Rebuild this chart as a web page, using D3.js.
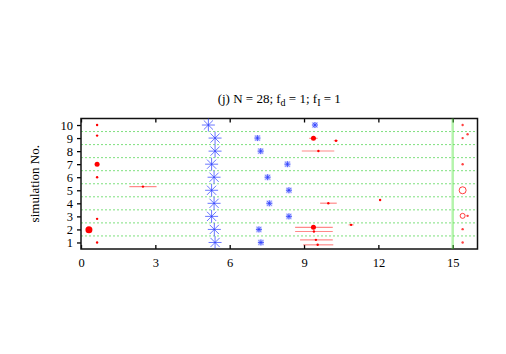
<!DOCTYPE html>
<html>
<head>
<meta charset="utf-8">
<script src="https://cdn.jsdelivr.net/npm/d3@7"></script>
<style>
  body { margin: 0; background: #fff; }
</style>
</head>
<body>
<div id="chart"></div>
<script>
// ----- data -----
const runs = [1, 2, 3, 4, 5, 6, 7, 8, 9, 10];
const bigStarX   = [5.41, 5.38, 5.27, 5.37, 5.27, 5.37, 5.27, 5.41, 5.41, 5.14];
const smallStarX = [7.26, 7.18, 8.39, 7.60, 8.39, 7.53, 8.33, 7.25, 7.12, 9.44];

// estimates with horizontal error bars
const estX  = [9.38, 10.29, 9.58, 2.50, 9.98, 12.07, 10.90, 9.38, 9.40, 9.48, 9.55];
const estY  = [8.98, 8.80, 8.01, 5.28, 4.01, 4.26, 2.35, 2.16, 1.84, 1.20, 0.82];
const estLo = [9.21, 10.20, 8.91, 1.95, 9.65, 12.05, 10.80, 8.64, 8.64, 8.84, 8.97];
const estHi = [9.55, 10.37, 10.22, 3.05, 10.32, 12.09, 11.00, 10.16, 10.16, 10.16, 10.18];
const estR  = [2.5, 1.2, 1.2, 1.2, 1.2, 1.2, 1.2, 2.5, 1.2, 1.2, 1.2];

// start points near x=0
const startX = [0.65, 0.65, 0.65, 0.65, 0.65, 0.32, 0.65];
const startY = [10.0, 9.19, 7.0, 6.0, 2.81, 1.97, 1.0];
const startR = [1.2, 1.2, 2.5, 1.2, 1.2, 3.5, 1.2];

// end points past the limit line
const endX = [15.40, 15.40, 15.60, 15.40, 15.40, 15.40, 15.60, 15.40, 15.40];
const endY = [10.0, 9.0, 9.29, 7.0, 5.0, 3.04, 3.04, 2.02, 1.0];
const endR = [1.2, 1.2, 1.2, 1.2, 3.5, 2.5, 1.2, 1.2, 1.2];
const endOpen = [0, 0, 0, 0, 1, 1, 0, 0, 0];

const limitX = 15;
const xTicks = [0, 3, 6, 9, 12, 15];
const gridY = [1.5, 2.5, 3.5, 4.5, 5.5, 6.5, 7.5, 8.5, 9.5];

// ----- layout -----
const W = 506, H = 354;
const L = 81, R = 477.5, T = 118.5, B = 249;
const FONT = "Liberation Serif, DejaVu Serif, Noto Serif, serif";

const svg = d3.select('#chart').append('svg')
    .attr('width', W).attr('height', H)
    .style('font-family', FONT);

const x = d3.scaleLinear().domain([0, 16]).range([L, R]);
const y = d3.scaleLinear().domain([0.5, 10.5]).range([B, T]);

// grid
svg.append('g').selectAll('line').data(gridY).enter().append('line')
    .attr('x1', L).attr('x2', R)
    .attr('y1', d => y(d)).attr('y2', d => y(d))
    .attr('stroke', '#7ee07e').attr('stroke-width', 1)
    .attr('stroke-dasharray', '2,2');

// axes
const gBottom = svg.append('g').attr('transform', `translate(0,${B})`)
    .call(d3.axisBottom(x).tickValues(xTicks).tickSizeInner(-4).tickSizeOuter(0).tickPadding(9));
const gTop = svg.append('g').attr('transform', `translate(0,${T})`)
    .call(d3.axisTop(x).tickValues(xTicks).tickSizeInner(-4).tickSizeOuter(0).tickFormat(''));
const gLeft = svg.append('g').attr('transform', `translate(${L},0)`)
    .call(d3.axisLeft(y).tickValues(runs).tickSizeInner(4).tickSizeOuter(0).tickPadding(4));

[gBottom, gTop, gLeft].forEach(g => {
    g.attr('font-family', null).attr('font-size', null);
    g.select('.domain').remove();
    g.selectAll('line').attr('stroke', '#000').attr('stroke-width', 1.3);
    g.selectAll('text').attr('fill', '#000')
        .style('font-family', FONT).style('font-size', '12.5px');
});

// frame
svg.append('rect').attr('x', L).attr('y', T).attr('width', R - L).attr('height', B - T)
    .attr('fill', 'none').attr('stroke', '#111').attr('stroke-width', 1.5);

// limit line
svg.append('line')
    .attr('x1', x(limitX)).attr('x2', x(limitX)).attr('y1', T).attr('y2', B)
    .attr('stroke', 'rgba(90,230,70,0.45)').attr('stroke-width', 2.5);

// asterisk shape
function star(r) {
    const d = r * Math.SQRT1_2;
    return `M${-r},0L${r},0M0,${-r}L0,${r}M${-d},${-d}L${d},${d}M${-d},${d}L${d},${-d}`;
}

// big asterisks
svg.append('g').selectAll('path').data(runs).enter().append('path')
    .attr('transform', (d, i) => `translate(${x(bigStarX[i])},${y(d)})`)
    .attr('d', star(6.5))
    .attr('stroke', '#2a3cff').attr('stroke-opacity', 0.7).attr('stroke-width', 1)
    .attr('fill', 'none');

// small asterisks with square halo
const gSmall = svg.append('g');
gSmall.selectAll('rect').data(runs).enter().append('rect')
    .attr('x', (d, i) => x(smallStarX[i]) - 3).attr('y', d => y(d) - 3)
    .attr('width', 6).attr('height', 6)
    .attr('fill', 'rgba(90,100,255,0.3)');
gSmall.selectAll('path').data(runs).enter().append('path')
    .attr('transform', (d, i) => `translate(${x(smallStarX[i])},${y(d)})`)
    .attr('d', star(3))
    .attr('stroke', '#2a3cff').attr('stroke-opacity', 0.85).attr('stroke-width', 0.9)
    .attr('fill', 'none');

// error bars
const gEst = svg.append('g');
gEst.selectAll('line').data(estX).enter().append('line')
    .attr('x1', (d, i) => x(estLo[i])).attr('x2', (d, i) => x(estHi[i]))
    .attr('y1', (d, i) => y(estY[i])).attr('y2', (d, i) => y(estY[i]))
    .attr('stroke', 'rgba(255,40,40,0.55)').attr('stroke-width', 1.2);
gEst.selectAll('circle').data(estX).enter().append('circle')
    .attr('cx', d => x(d)).attr('cy', (d, i) => y(estY[i]))
    .attr('r', (d, i) => estR[i])
    .attr('fill', '#ff0000');

// start points
svg.append('g').selectAll('circle').data(startX).enter().append('circle')
    .attr('cx', d => x(d)).attr('cy', (d, i) => y(startY[i]))
    .attr('r', (d, i) => startR[i])
    .attr('fill', '#ff0000');

// end points
svg.append('g').selectAll('circle').data(endX).enter().append('circle')
    .attr('cx', d => x(d)).attr('cy', (d, i) => y(endY[i]))
    .attr('r', (d, i) => endR[i])
    .attr('fill', (d, i) => endOpen[i] ? 'none' : 'rgba(255,30,30,0.85)')
    .attr('stroke', (d, i) => endOpen[i] ? 'rgba(255,30,30,0.85)' : 'none')
    .attr('stroke-width', 1);

// title
const title = svg.append('text')
    .attr('x', (L + R) / 2).attr('y', 102.5)
    .attr('text-anchor', 'middle').style('font-size', '13px').style('font-family', FONT);
title.append('tspan').text('(j) N = 28; f');
title.append('tspan').style('font-size', '10px').attr('dy', 3).text('d');
title.append('tspan').attr('dy', -3).text(' = 1; f');
title.append('tspan').style('font-size', '10px').attr('dy', 3).text('I');
title.append('tspan').attr('dy', -3).text(' = 1');

// y label
svg.append('text')
    .attr('transform', `translate(39,${(T + B) / 2}) rotate(-90)`)
    .attr('text-anchor', 'middle').style('font-size', '13px').style('font-family', FONT)
    .text('simulation No.');
</script>
</body>
</html>
